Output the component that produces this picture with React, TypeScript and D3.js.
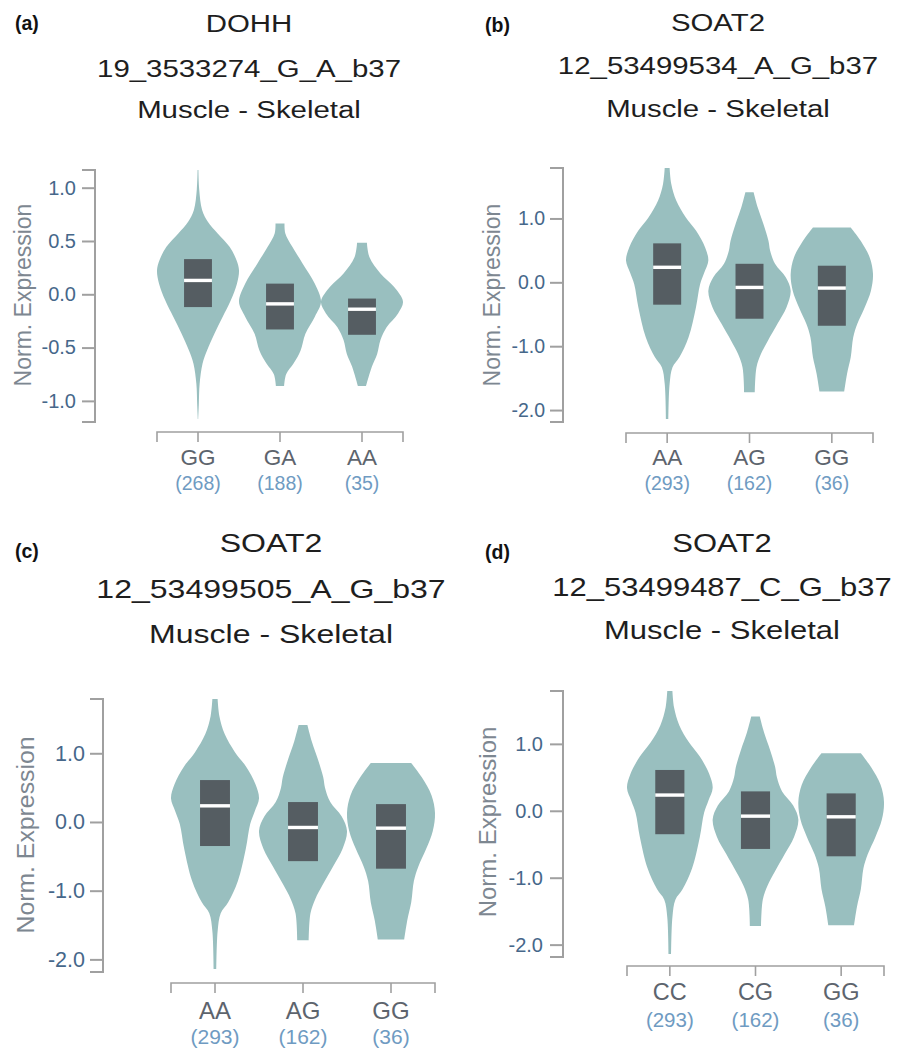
import React, { useEffect, useRef } from 'react';
import * as d3 from 'd3';

type Profile = [number, number][]; // [expression value, relative half-width]
type BoxStat = { q1: number; median: number; q3: number };

const panelLetters = ['(a)', '(b)', '(c)', '(d)'];
const genes = ['DOHH', 'SOAT2', 'SOAT2', 'SOAT2'];
const variantIds = ['19_3533274_G_A_b37', '12_53499534_A_G_b37', '12_53499505_A_G_b37', '12_53499487_C_G_b37'];
const tissue = 'Muscle - Skeletal';

const genotypesA = ['GG', 'GA', 'AA'];
const genotypesB = ['AA', 'AG', 'GG'];
const genotypesC = ['AA', 'AG', 'GG'];
const genotypesD = ['CC', 'CG', 'GG'];
const countsDohh = [268, 188, 35];
const countsSoat2 = [293, 162, 36];

const yTicksDohh = [-1.0, -0.5, 0.0, 0.5, 1.0];
const yTicksSoat2 = [-2.0, -1.0, 0.0, 1.0];

// violin outlines, top to bottom
const dohhViolins: Profile[] = [
  [[1.166, 0.01], [0.98, 0.03], [0.79, 0.1], [0.68, 0.24], [0.57, 0.48], [0.445, 0.77], [0.32, 0.94], [0.226, 1.0],
   [0.1, 0.95], [-0.056, 0.8], [-0.213, 0.6], [-0.37, 0.4], [-0.527, 0.22], [-0.652, 0.11], [-0.84, 0.04], [-1.03, 0.02], [-1.17, 0.005]],
  [[0.665, 0.11], [0.57, 0.13], [0.445, 0.3], [0.29, 0.55], [0.1, 0.85], [-0.07, 1.0], [-0.21, 0.85], [-0.37, 0.62],
   [-0.53, 0.5], [-0.65, 0.33], [-0.75, 0.15], [-0.86, 0.1]],
  [[0.483, 0.12], [0.35, 0.18], [0.195, 0.45], [0.07, 0.78], [-0.07, 1.0], [-0.18, 0.88], [-0.31, 0.6], [-0.43, 0.45],
   [-0.56, 0.37], [-0.68, 0.24], [-0.86, 0.1]],
];

const soat2Violins: Profile[] = [
  [[1.79, 0.06], [1.54, 0.1], [1.28, 0.22], [1.02, 0.45], [0.81, 0.7], [0.55, 0.92], [0.34, 1.0], [0.15, 0.9],
   [-0.03, 0.8], [-0.39, 0.7], [-0.86, 0.52], [-1.17, 0.3], [-1.33, 0.13], [-1.59, 0.06], [-2.14, 0.03]],
  [[1.41, 0.1], [1.17, 0.2], [0.91, 0.34], [0.65, 0.46], [0.5, 0.5], [0.29, 0.62], [0.08, 0.88], [-0.13, 1.0],
   [-0.39, 0.9], [-0.65, 0.68], [-0.91, 0.45], [-1.12, 0.28], [-1.33, 0.17], [-1.72, 0.13]],
  [[0.86, 0.46], [0.65, 0.7], [0.39, 0.92], [0.13, 1.0], [-0.13, 0.95], [-0.39, 0.8], [-0.65, 0.62], [-0.86, 0.52],
   [-1.17, 0.46], [-1.43, 0.37], [-1.71, 0.3]],
];

const dohhBoxes: BoxStat[] = [
  { q1: -0.12, median: 0.13, q3: 0.33 },
  { q1: -0.33, median: -0.09, q3: 0.1 },
  { q1: -0.38, median: -0.14, q3: -0.04 },
];
const soat2Boxes: BoxStat[] = [
  { q1: -0.35, median: 0.235, q3: 0.61 },
  { q1: -0.57, median: -0.08, q3: 0.29 },
  { q1: -0.68, median: -0.09, q3: 0.26 },
];

const panelGenotypes = [genotypesA, genotypesB, genotypesC, genotypesD];
const panelCounts = [countsDohh, countsSoat2, countsSoat2, countsSoat2];
const panelViolins = [dohhViolins, soat2Violins, soat2Violins, soat2Violins];
const panelBoxes = [dohhBoxes, soat2Boxes, soat2Boxes, soat2Boxes];
const panelTicks = [yTicksDohh, yTicksSoat2, yTicksSoat2, yTicksSoat2];

const layouts = [
  { yAxisX: 95, yTop: 170, yBottom: 422, xAxisY: 432, xLeft: 157, xRight: 403, tickFont: 20, tickGap: 6,
    yLabelX: 23, yLabelY: 295, yLabelFont: 23, catFont: 22.5, countFont: 19.5, catDy: 33, countDy: 58,
    titleX: 249, titleY: [32, 77, 118], titleFont: 24.5, titleSX: 1.2, letterX: 15, letterY: 30 },
  { yAxisX: 563, yTop: 168, yBottom: 422, xAxisY: 433, xLeft: 626, xRight: 873, tickFont: 19.5, tickGap: 5,
    yLabelX: 492, yLabelY: 295, yLabelFont: 23, catFont: 22.5, countFont: 19.5, catDy: 32, countDy: 57,
    titleX: 718, titleY: [31, 74, 117], titleFont: 24.5, titleSX: 1.2, letterX: 485, letterY: 32 },
  { yAxisX: 103, yTop: 699, yBottom: 972, xAxisY: 983, xLeft: 171, xRight: 435, tickFont: 21.5, tickGap: 5,
    yLabelX: 25, yLabelY: 835, yLabelFont: 24.8, catFont: 24, countFont: 21, catDy: 35.5, countDy: 60.5,
    titleX: 271, titleY: [552, 598, 643], titleFont: 26.5, titleSX: 1.21, letterX: 15, letterY: 558 },
  { yAxisX: 563, yTop: 691, yBottom: 957, xAxisY: 966, xLeft: 627, xRight: 884, tickFont: 20, tickGap: 7,
    yLabelX: 487, yLabelY: 822, yLabelFont: 24, catFont: 23.5, countFont: 20.5, catDy: 34, countDy: 61,
    titleX: 722, titleY: [552, 596, 639], titleFont: 25, titleSX: 1.24, letterX: 485, letterY: 559 },
];

const FONT = '"Liberation Sans", Arial, Helvetica, sans-serif';
const VIOLIN_FILL = '#99bfbf';
const BOX_FILL = '#555d62';
const AXIS_COLOR = '#a0a0a0';

const App: React.FC = () => {
  const svgRef = useRef<SVGSVGElement>(null);

  useEffect(() => {
    if (!svgRef.current) return;
    const root = d3.select(svgRef.current);
    root.selectAll('*').remove();

    layouts.forEach((L, p) => {
      const g = root.append('g');
      const genotypes = panelGenotypes[p];
      const violins = panelViolins[p];
      const boxes = panelBoxes[p];

      const allVals = violins.flat().map(d => d[0]);
      const y = d3.scaleLinear()
        .domain(d3.extent(allVals) as [number, number])
        .range([L.yBottom - 3, L.yTop]);
      const x = d3.scaleBand().domain(genotypes).range([L.xLeft, L.xRight]).padding(0);
      const half = x.bandwidth() / 2;
      const boxW = x.bandwidth() * 0.34;

      // titles
      const lines = [genes[p], variantIds[p], tissue];
      lines.forEach((t, i) => {
        g.append('text')
          .attr('transform', `translate(${L.titleX},${L.titleY[i]}) scale(${L.titleSX},1)`)
          .attr('text-anchor', 'middle')
          .attr('font-family', FONT)
          .attr('font-size', L.titleFont)
          .attr('fill', '#1e1e1e')
          .text(t);
      });
      g.append('text')
        .attr('x', L.letterX)
        .attr('y', L.letterY)
        .attr('font-family', FONT)
        .attr('font-weight', 'bold')
        .attr('font-size', 19.5)
        .attr('fill', '#111')
        .text(panelLetters[p]);

      // violins
      genotypes.forEach((gt, i) => {
        const cx = (x(gt) || 0) + half;
        const area = d3.area<[number, number]>()
          .y(d => y(d[0]))
          .x0(d => cx - d[1] * half)
          .x1(d => cx + d[1] * half)
          .curve(d3.curveCatmullRom.alpha(0.5));
        g.append('path').attr('d', area(violins[i]) || '').attr('fill', VIOLIN_FILL);

        const b = boxes[i];
        g.append('rect')
          .attr('x', cx - boxW / 2)
          .attr('width', boxW)
          .attr('y', y(b.q3))
          .attr('height', y(b.q1) - y(b.q3))
          .attr('fill', BOX_FILL);
        g.append('rect')
          .attr('x', cx - boxW / 2)
          .attr('width', boxW)
          .attr('y', y(b.median) - 1.7)
          .attr('height', 3.4)
          .attr('fill', '#ffffff');
      });

      // y axis
      const yAxis = g.append('g')
        .attr('transform', `translate(${L.yAxisX},0)`)
        .call(d3.axisLeft(y)
          .tickValues(panelTicks[p])
          .tickSize(13)
          .tickPadding(L.tickGap)
          .tickFormat(d => (+d).toFixed(1)));
      yAxis.select('.domain').remove();
      yAxis.selectAll('line').attr('stroke', AXIS_COLOR).attr('stroke-width', 2);
      yAxis.selectAll('text')
        .attr('font-family', FONT)
        .attr('font-size', L.tickFont)
        .attr('fill', '#46678a');
      g.append('path')
        .attr('d', `M${L.yAxisX - 13},${L.yTop}H${L.yAxisX}V${L.yBottom}H${L.yAxisX - 13}`)
        .attr('fill', 'none')
        .attr('stroke', AXIS_COLOR)
        .attr('stroke-width', 2);

      g.append('text')
        .attr('transform', `translate(${L.yLabelX},${L.yLabelY}) rotate(-90)`)
        .attr('text-anchor', 'middle')
        .attr('dominant-baseline', 'central')
        .attr('font-family', FONT)
        .attr('font-size', L.yLabelFont)
        .attr('fill', '#7d8791')
        .text('Norm. Expression');

      // x axis
      g.append('path')
        .attr('d', `M${L.xLeft},${L.xAxisY + 10}V${L.xAxisY}H${L.xRight}V${L.xAxisY + 10}`)
        .attr('fill', 'none')
        .attr('stroke', AXIS_COLOR)
        .attr('stroke-width', 1.6);
      genotypes.forEach((gt, i) => {
        const cx = (x(gt) || 0) + half;
        g.append('line')
          .attr('x1', cx).attr('x2', cx)
          .attr('y1', L.xAxisY).attr('y2', L.xAxisY + 10)
          .attr('stroke', AXIS_COLOR)
          .attr('stroke-width', 1.6);
        g.append('text')
          .attr('x', cx)
          .attr('y', L.xAxisY + L.catDy)
          .attr('text-anchor', 'middle')
          .attr('font-family', FONT)
          .attr('font-size', L.catFont)
          .attr('fill', '#5d646d')
          .text(gt);
        g.append('text')
          .attr('x', cx)
          .attr('y', L.xAxisY + L.countDy)
          .attr('text-anchor', 'middle')
          .attr('font-family', FONT)
          .attr('font-size', L.countFont)
          .attr('fill', '#6f9bc2')
          .text(`(${panelCounts[p][i]})`);
      });
    });
  }, []);

  return (
    <svg
      ref={svgRef}
      width={909}
      height={1051}
      style={{ position: 'absolute', left: 0, top: 0, background: '#fff' }}
    />
  );
};

export default App;
